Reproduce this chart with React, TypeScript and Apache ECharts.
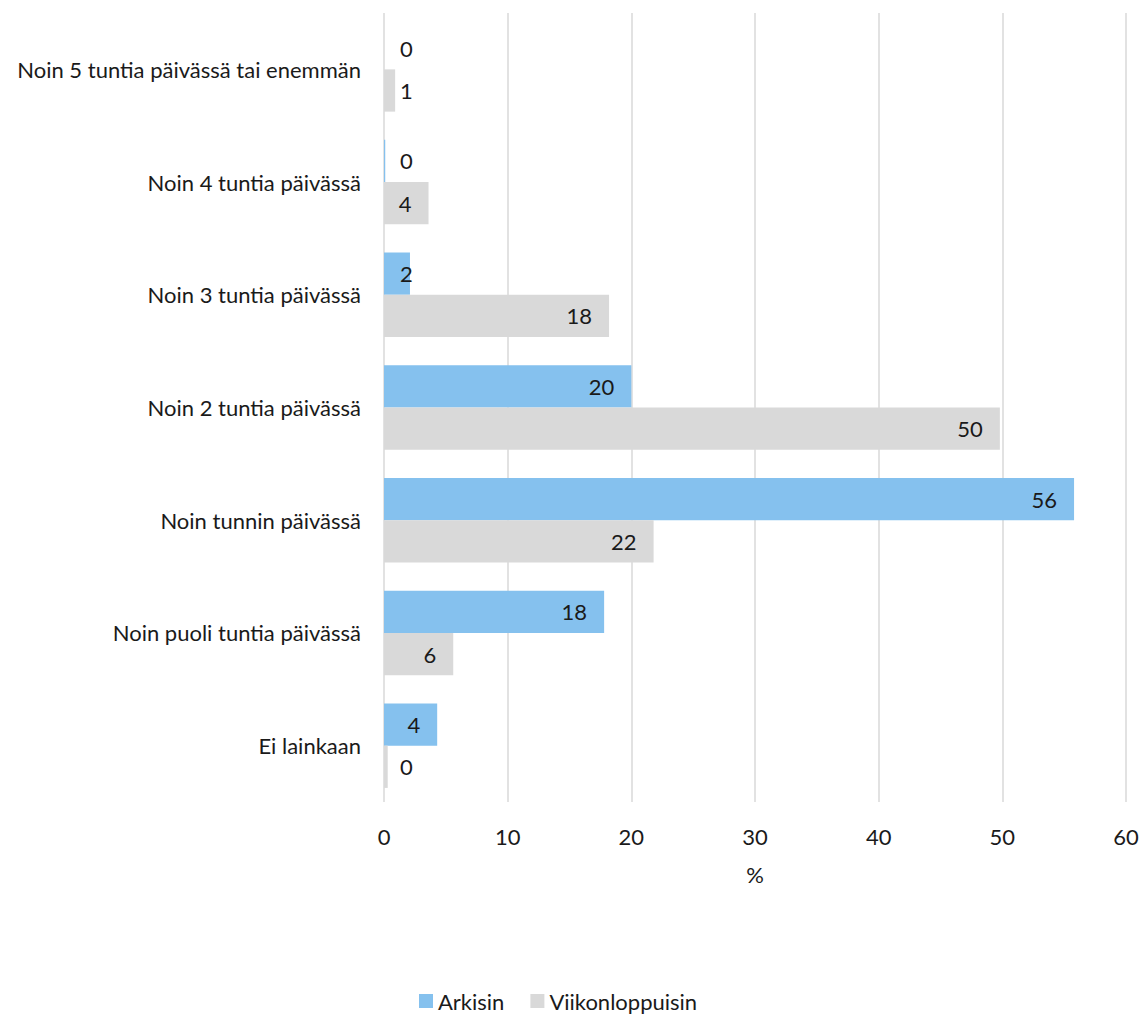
import React, { useEffect, useRef } from "react";
import * as echarts from "echarts";

const categories = [
  "Noin 5 tuntia päivässä tai enemmän",
  "Noin 4 tuntia päivässä",
  "Noin 3 tuntia päivässä",
  "Noin 2 tuntia päivässä",
  "Noin tunnin päivässä",
  "Noin puoli tuntia päivässä",
  "Ei lainkaan",
];
const arkisin = [0, 0.1, 2.1, 20, 55.8, 17.8, 4.3];
const viikonloppuisin = [0.9, 3.6, 18.2, 49.8, 21.8, 5.6, 0.3];
const xTicks = { min: 0, max: 60, interval: 10 };
const seriesNames = ["Arkisin", "Viikonloppuisin"];

const FONT = "Lato";
const FS = 22;
const TEXT = "#1a1a1a";

function makeData(values: number[]) {
  return values.map((v) => {
    if (v < 3) {
      return {
        value: v,
        label: { position: [16, "50%"], align: "left", verticalAlign: "middle" },
      };
    }
    return { value: v };
  });
}

export default function App() {
  const ref = useRef<HTMLDivElement>(null);
  useEffect(() => {
    const chart = echarts.init(ref.current!, null, { renderer: "svg" });
    const labelCommon = {
      show: true,
      position: "insideRight",
      distance: 17,
      color: TEXT,
      fontFamily: FONT,
      fontSize: FS,
      formatter: (p: any) => String(Math.round(p.value)),
    };
    chart.setOption({
      animation: false,
      textStyle: { fontFamily: FONT },
      grid: { left: 384, right: 20, top: 13, bottom: 212, containLabel: false },
      legend: {
        bottom: -3,
        left: 414,
        itemWidth: 14,
        itemHeight: 14,
        itemGap: 26,
        icon: "rect",
        textStyle: { fontFamily: FONT, fontSize: FS, color: TEXT },
        data: seriesNames,
      },
      xAxis: {
        type: "value",
        min: xTicks.min,
        max: xTicks.max,
        interval: xTicks.interval,
        name: "%",
        nameLocation: "middle",
        nameGap: 61,
        nameTextStyle: { fontFamily: FONT, fontSize: FS, color: TEXT },
        axisLine: { show: false },
        axisTick: { show: false },
        axisLabel: { margin: 23, fontFamily: FONT, fontSize: FS, color: TEXT },
        splitLine: { show: true, lineStyle: { color: "#d9d9d9", width: 1.5 } },
      },
      yAxis: {
        type: "category",
        inverse: true,
        data: categories,
        axisLine: { show: false },
        axisTick: { show: false },
        axisLabel: { margin: 23, fontFamily: FONT, fontSize: FS, color: TEXT },
      },
      series: [
        {
          name: seriesNames[0],
          type: "bar",
          data: makeData(arkisin),
          itemStyle: { color: "#85c1ee" },
          barGap: "0%",
          barCategoryGap: "25%",
          label: labelCommon,
        },
        {
          name: seriesNames[1],
          type: "bar",
          data: makeData(viikonloppuisin),
          itemStyle: { color: "#d9d9d9" },
          barGap: "0%",
          barCategoryGap: "25%",
          label: labelCommon,
        },
      ],
    });
    return () => chart.dispose();
  }, []);
  return <div ref={ref} style={{ width: 1146, height: 1014, position: "absolute", left: 0, top: 0 }} />;
}
